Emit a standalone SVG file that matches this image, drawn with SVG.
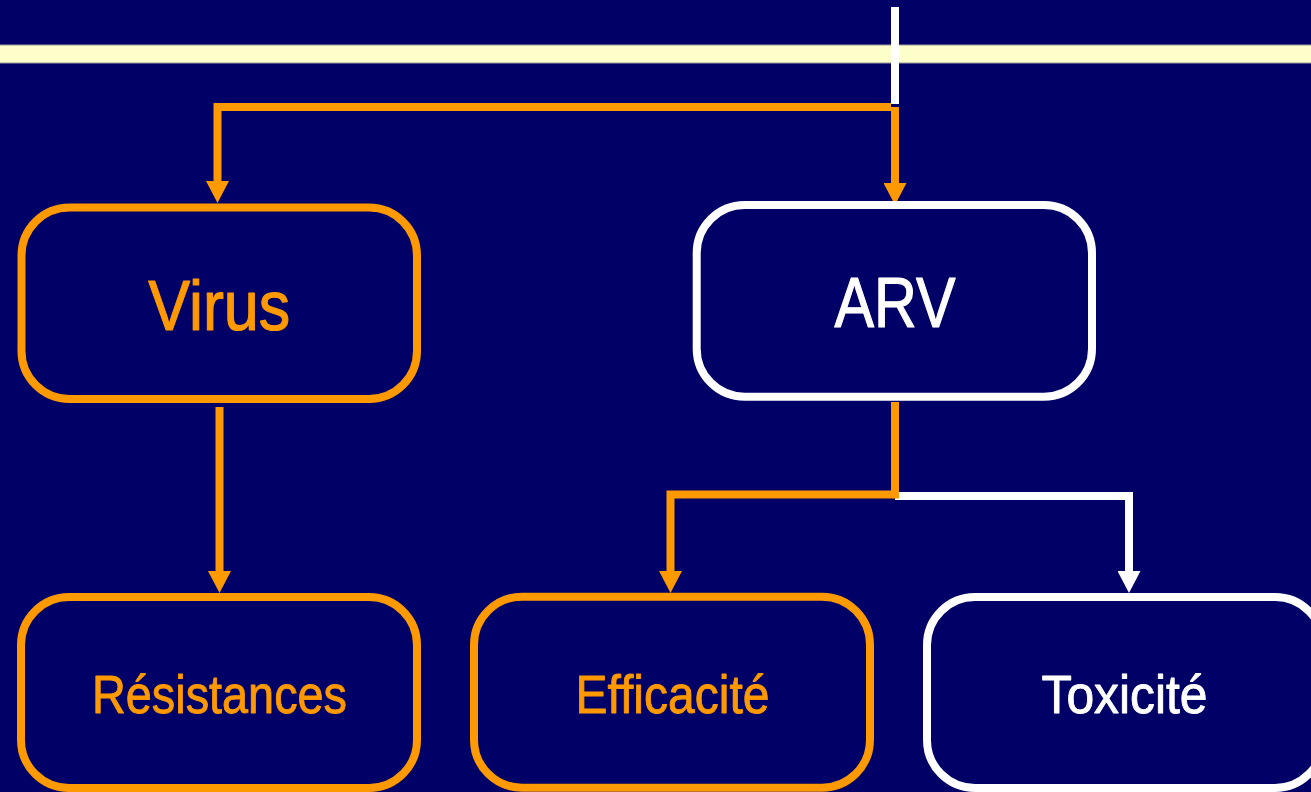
<svg xmlns="http://www.w3.org/2000/svg" width="1311" height="792" viewBox="0 0 1311 792">
  <style>
    .box { fill: #000066; stroke-width: 8; }
    .orange { stroke: #FF9900; }
    .white { stroke: #FFFFFF; }
    .lbl { font-family: "Liberation Sans Narrow", "Liberation Sans", Arial, sans-serif; text-anchor: middle; stroke-width: 1.2; stroke-linejoin: round; }
    .big { font-size: 70px; }
    .small { font-size: 53px; stroke-width: 0.9; }
    .tOrange { fill: #FF9900; stroke: #FF9900; }
    .tWhite { fill: #FFFFFF; stroke: #FFFFFF; }
    .wire { fill: none; stroke-width: 8; stroke-linejoin: miter; stroke-linecap: butt; }
  </style>
  <defs>
    <marker id="arrowOrange" viewBox="0 0 22 23" refX="1" refY="11.5" markerWidth="22" markerHeight="23" markerUnits="userSpaceOnUse" orient="auto">
      <path d="M0,0 L22,11.5 L0,23 Z" fill="#FF9900"/>
    </marker>
    <marker id="arrowWhite" viewBox="0 0 22 23" refX="1" refY="11.5" markerWidth="22" markerHeight="23" markerUnits="userSpaceOnUse" orient="auto">
      <path d="M0,0 L22,11.5 L0,23 Z" fill="#FFFFFF"/>
    </marker>
  </defs>

  <!-- background -->
  <rect x="0" y="0" width="1311" height="792" fill="#000066"/>

  <!-- title band -->
  <rect x="-2" y="45" width="1315" height="18" fill="#FFFFCC" stroke="#9C9C9C" stroke-width="1"/>

  <!-- connectors -->
  <g id="connectors">
    <!-- incoming line from above -->
    <path class="wire white" d="M895,7 V104"/>
    <!-- ARV to Toxicité (white branch) -->
    <path class="wire white" d="M895,496 H1129 V572" marker-end="url(#arrowWhite)"/>
    <!-- top split to Virus and ARV -->
    <path class="wire orange" d="M891,107 H217.5 V182" marker-end="url(#arrowOrange)"/>
    <path class="wire orange" d="M895,107 V184" marker-end="url(#arrowOrange)"/>
    <!-- Virus to Résistances -->
    <path class="wire orange" d="M219.5,407 V572" marker-end="url(#arrowOrange)"/>
    <!-- ARV to Efficacité -->
    <path class="wire orange" d="M895,402 V494.5 H670.5 V572" marker-end="url(#arrowOrange)"/>
  </g>

  <g id="node-virus">
    <rect class="box orange" x="21.5" y="207.5" width="395.5" height="191.5" rx="48" ry="48"/>
    <text class="lbl big tOrange" x="219.2" y="330" textLength="142" lengthAdjust="spacingAndGlyphs">Virus</text>
  </g>

  <g id="node-arv">
    <rect class="box white" x="696.7" y="205" width="395.3" height="191.7" rx="48" ry="48"/>
    <text class="lbl big tWhite" x="895" y="327.3" textLength="121" lengthAdjust="spacingAndGlyphs">ARV</text>
  </g>

  <g id="node-resistances">
    <rect class="box orange" x="21" y="597" width="396" height="191" rx="48" ry="48"/>
    <text class="lbl small tOrange" x="219.5" y="713.3" textLength="255" lengthAdjust="spacingAndGlyphs">Résistances</text>
  </g>

  <g id="node-efficacite">
    <rect class="box orange" x="474" y="596.7" width="396" height="191" rx="48" ry="48"/>
    <text class="lbl small tOrange" x="672.5" y="713.3" textLength="194" lengthAdjust="spacingAndGlyphs">Efficacité</text>
  </g>

  <g id="node-toxicite">
    <rect class="box white" x="927" y="597" width="396" height="191" rx="48" ry="48"/>
    <text class="lbl small tWhite" x="1124.5" y="713" textLength="166" lengthAdjust="spacingAndGlyphs">Toxicité</text>
  </g>
</svg>
